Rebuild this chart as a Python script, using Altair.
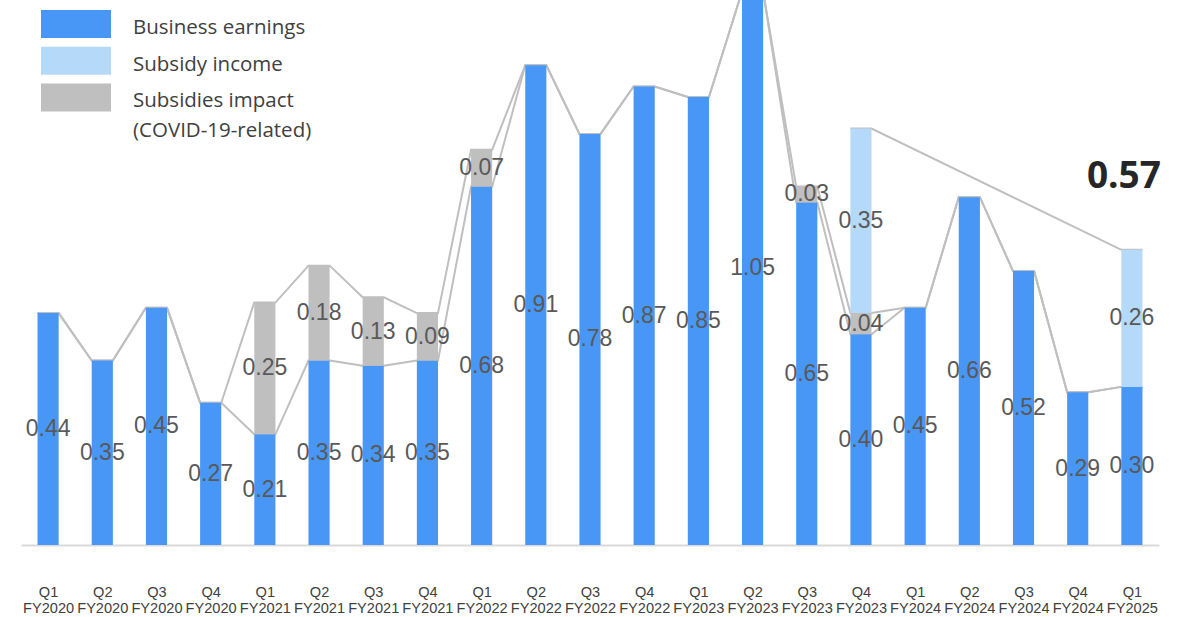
import altair as alt
import pandas as pd

# Quarter / fiscal-year labels for the x axis
quarters = ["Q1", "Q2", "Q3", "Q4"] * 5 + ["Q1"]
fiscal_years = (["FY2020"] * 4 + ["FY2021"] * 4 + ["FY2022"] * 4
                + ["FY2023"] * 4 + ["FY2024"] * 4 + ["FY2025"])

# Stacked components (bottom to top)
business_earnings = [0.44, 0.35, 0.45, 0.27, 0.21, 0.35, 0.34, 0.35, 0.68, 0.91, 0.78,
                     0.87, 0.85, 1.05, 0.65, 0.40, 0.45, 0.66, 0.52, 0.29, 0.30]
subsidies_impact = [0, 0, 0, 0, 0.25, 0.18, 0.13, 0.09, 0.07, 0, 0,
                    0, 0, 0, 0.03, 0.04, 0, 0, 0, 0, 0]
subsidy_income = [0, 0, 0, 0, 0, 0, 0, 0, 0, 0, 0,
                  0, 0, 0, 0, 0.35, 0, 0, 0, 0, 0.26]

series_names = ["Business earnings", "Subsidy income", "Subsidies impact"]
series_colors = ["#4896F6", "#B5D9F8", "#BFBFBF"]
legend_lines = [["Business earnings"], ["Subsidy income"],
                ["Subsidies impact", "(COVID-19-related)"]]

headline_text = "0.57"

# Layout
PLOT_W, PLOT_H = 1138, 545
N = len(quarters)
Y_MAX = 1.034
BAR_SPAN = 0.39           # bar width as a fraction of one quarter slot
HALF = BAR_SPAN / 2
BAR_PX = BAR_SPAN * PLOT_W / N
LINE_COLOR = "#BFBFBF"

# Segment table in stacking order: business, COVID subsidies impact, subsidy income
rows = []
for i in range(N):
    base = 0.0
    for name, vals, rank in [("Business earnings", business_earnings, 0),
                             ("Subsidies impact", subsidies_impact, 1),
                             ("Subsidy income", subsidy_income, 2)]:
        v = vals[i]
        rows.append({"idx": i, "series": name, "value": v, "y0": base,
                     "y1": base + v, "mid": base + v / 2, "rank": rank})
        base += v
seg = pd.DataFrame(rows)
seg = seg[seg["value"] > 0]

# Connector lines run across each bar top and on to the next bar
line_rows = []
levels = {
    "earnings": [b for b in business_earnings],
    "with_impact": [b + c for b, c in zip(business_earnings, subsidies_impact)],
}
for key, vals in levels.items():
    k = 0
    for i, v in enumerate(vals):
        for off in (-HALF, HALF):
            line_rows.append({"line": key, "x": i + off, "y": v, "k": k})
            k += 1
k = 0
for i in range(N):
    if subsidy_income[i] > 0:
        tot = business_earnings[i] + subsidies_impact[i] + subsidy_income[i]
        for off in (-HALF, HALF):
            line_rows.append({"line": "total", "x": i + off, "y": tot, "k": k})
            k += 1
lines_df = pd.DataFrame(line_rows)

label_expr = "[" + ",".join(f"['{q}','{f}']" for q, f in zip(quarters, fiscal_years)) + "][round(datum.value)]"

x_scale = alt.Scale(domain=[-0.5, N - 0.5], nice=False, zero=False, padding=0)
y_scale = alt.Scale(domain=[0, Y_MAX], nice=False, zero=True, padding=0)

x_axis = alt.Axis(values=list(range(N)), labelExpr=label_expr, title=None, ticks=False,
                  grid=False, labelAngle=0, labelFont="Liberation Sans", labelFontSize=14.6,
                  labelColor="#404040", labelLineHeight=16, labelPadding=39,
                  labelBaseline="top", labelOverlap=False, labelFlush=False, labelBound=False,
                  domainColor="#D9D9D9", domainWidth=2)

connectors = alt.Chart(lines_df).mark_line(color=LINE_COLOR, strokeWidth=2, clip=True).encode(
    x=alt.X("x:Q", scale=x_scale, axis=x_axis),
    y=alt.Y("y:Q", scale=y_scale, axis=None),
    detail="line:N",
    order="k:Q",
)

bars = alt.Chart(seg).mark_bar(width=BAR_PX, clip=True).encode(
    x=alt.X("idx:Q", scale=x_scale, axis=x_axis),
    y=alt.Y("y0:Q", scale=y_scale, axis=None),
    y2="y1:Q",
    color=alt.Color("series:N", scale=alt.Scale(domain=series_names, range=series_colors),
                    legend=None),
)

labels = alt.Chart(seg).mark_text(font="Liberation Sans", fontSize=23, color="#595959",
                                  align="center", baseline="middle").encode(
    x=alt.X("idx:Q", scale=x_scale),
    y=alt.Y("mid:Q", scale=y_scale),
    text=alt.Text("value:Q", format=".2f"),
)

last = N - 1
head_df = pd.DataFrame([{"idx": last,
                         "y": business_earnings[last] + subsidies_impact[last] + subsidy_income[last],
                         "text": headline_text}])
headline = alt.Chart(head_df).mark_text(font="Open Sans", fontSize=37, fontWeight="bold",
                                        color="#262626", align="center", baseline="middle",
                                        dx=-8, dy=-73).encode(
    x=alt.X("idx:Q", scale=x_scale),
    y=alt.Y("y:Q", scale=y_scale),
    text="text:N",
)

# Hand-built legend in the upper-left corner
legend_layers = []
ROW0, ROW_STEP, SW_LEFT, SW_W, SW_H, TXT_LEFT = 24, 36.7, 20, 70, 28, 112
for r, (color, text_lines) in enumerate(zip(series_colors, legend_lines)):
    cy = ROW0 + r * ROW_STEP
    legend_layers.append(
        alt.Chart(head_df).mark_rect(color=color).encode(
            x=alt.value(SW_LEFT), x2=alt.value(SW_LEFT + SW_W),
            y=alt.value(cy - SW_H / 2), y2=alt.value(cy + SW_H / 2))
    )
    for j, t in enumerate(text_lines):
        legend_layers.append(
            alt.Chart(head_df).mark_text(font="Open Sans", fontSize=20.5, color="#404040",
                                         align="left", baseline="middle", text=t).encode(
                x=alt.value(TXT_LEFT), y=alt.value(cy + 4 + j * 30))
        )

chart = alt.layer(connectors, bars, labels, headline, *legend_layers).properties(
    width=PLOT_W, height=PLOT_H,
    autosize=alt.AutoSizeParams(type="none"),
    padding={"left": 21, "top": 0, "right": 27, "bottom": 72},
    background="white",
).configure_view(stroke=None)

chart.save("out.html", embed_options={"renderer": "svg", "actions": False})
